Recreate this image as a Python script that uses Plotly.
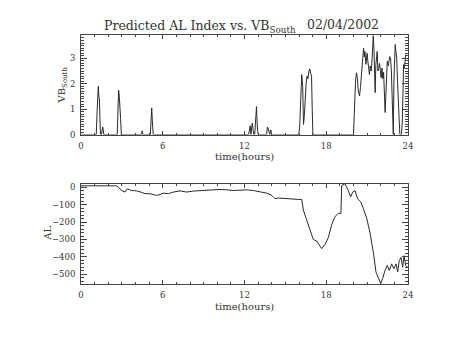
import plotly.graph_objects as go

# Solar-wind southward field driver, VB_South (mV/m), vs UT hours
vb_time = [
    0.0, 1.12, 1.18, 1.22, 1.27, 1.31, 1.35, 1.39, 1.43, 1.50, 1.55, 1.59, 1.63, 1.67,
    2.66, 2.71, 2.76, 2.81, 2.86, 2.91, 2.96,
    4.43, 4.49, 4.56, 5.09, 5.15, 5.19, 5.24, 5.30,
    12.30, 12.37, 12.42, 12.47, 12.52, 12.57, 12.63, 12.68, 12.75, 12.82, 12.88, 12.94, 13.0,
    13.62, 13.68, 13.74, 13.85, 13.93, 13.99, 14.06,
    15.88, 15.98, 16.05, 16.12, 16.20, 16.27, 16.33, 16.40, 16.46, 16.52, 16.59, 16.66,
    16.73, 16.80, 16.86, 16.92, 16.97, 17.02,
    20.0, 20.08, 20.15, 20.22, 20.29, 20.35, 20.44, 20.51, 20.58, 20.64, 20.70, 20.74,
    20.79, 20.84, 20.91, 20.96, 21.0, 21.05, 21.11, 21.17, 21.23, 21.30, 21.37, 21.41,
    21.45, 21.50, 21.55, 21.59, 21.64, 21.69, 21.74, 21.79, 21.85, 21.91, 21.97, 22.03,
    22.09, 22.15, 22.21, 22.27, 22.32, 22.37, 22.43, 22.48, 22.55, 22.61, 22.66, 22.72,
    22.78, 22.83, 22.88, 22.92, 22.97, 23.01, 23.06, 23.11, 23.17, 23.23, 23.29, 23.35,
    23.40, 23.45, 23.52, 23.58, 23.63, 23.68, 23.73, 23.78, 23.83, 23.88,
]
vb_value = [
    0.0, 0.0, 0.9, 1.2, 1.9, 1.5, 1.4, 0.6, 0.0, 0.0, 0.25, 0.3, 0.2, 0.0,
    0.0, 1.2, 1.75, 1.5, 1.2, 0.6, 0.0,
    0.0, 0.15, 0.0, 0.0, 0.6, 1.05, 0.5, 0.0,
    0.0, 0.25, 0.35, 0.0, 0.3, 0.45, 0.2, 0.0, 0.0, 0.6, 1.1, 0.3, 0.0,
    0.0, 0.3, 0.25, 0.0, 0.18, 0.0, 0.0,
    0.0, 0.0, 0.3, 1.6, 2.36, 1.9, 0.4, 0.8, 1.84, 2.0, 2.3, 2.2,
    2.5, 2.58, 2.4, 2.3, 1.0, 0.0,
    0.0, 1.6, 2.1, 2.43, 2.2, 1.71, 1.52, 1.84, 2.4, 2.75, 3.2, 3.4,
    3.05, 3.27, 2.76, 3.0, 3.2, 2.9, 2.6, 2.36, 2.7, 2.5, 3.0, 3.3,
    3.9, 3.4, 2.4, 1.65, 2.75, 3.1, 3.27, 2.5, 2.6, 2.8, 2.4, 2.23,
    2.62, 2.2, 2.45, 1.6, 0.87, 1.5, 2.62, 2.88, 2.7, 2.9, 3.07, 3.0,
    2.5, 1.6, 0.0, 0.0, 2.2, 3.27, 3.54, 3.3, 3.0, 2.1, 1.2, 0.6,
    0.0, 0.0, 0.0, 0.5, 1.97, 2.75, 2.6, 3.0, 3.14, 3.1,
]

# Predicted AL index (nT), vs UT hours
al_time = [
    0.0, 2.60, 2.75, 2.98, 3.23, 3.40, 3.72, 4.08, 4.40, 4.70, 5.06, 5.30, 5.55, 5.80,
    6.04, 6.41, 6.77, 7.27, 7.76, 8.24, 8.73, 9.22, 9.71, 10.2, 10.7, 11.18, 11.67,
    12.16, 12.65, 13.14, 13.63, 14.0, 14.24, 14.48, 14.97, 15.46, 15.95, 16.2, 16.32,
    16.56, 16.8, 17.05, 17.3, 17.49, 17.66, 17.91, 18.15, 18.4, 18.64, 18.89, 19.08,
    19.13, 19.37, 19.62, 19.79, 19.94, 20.11, 20.3, 20.53, 20.72, 20.97, 21.21, 21.46,
    21.65, 21.82, 22.0, 22.14, 22.31, 22.48, 22.63, 22.8, 22.96, 23.12, 23.24, 23.36,
    23.49, 23.61, 23.71, 23.83, 23.95, 24.0,
]
al_value = [
    8, 8, 0, -19, -28, -10, -19, -21, -28, -37, -37, -42, -47, -42,
    -34, -37, -28, -21, -28, -22, -19, -19, -13, -13, -15, -19, -17,
    -15, -19, -28, -34, -47, -66, -62, -66, -66, -70, -71, -131,
    -187, -243, -300, -309, -328, -352, -328, -290, -215, -169, -150, -150,
    10, 20, -19, -56, -28, -19, -66, -84, -122, -178, -262, -375,
    -487, -515, -552, -524, -478, -449, -478, -440, -468, -440, -487, -421,
    -403, -459, -393, -449, -459, -455,
]

hour_ticks = [0, 6, 12, 18, 24]
vb_ticks = [0, 1, 2, 3]
al_ticks = [0, -100, -200, -300, -400, -500]

W, H = 454, 341
L, R = 81, 46
FONT = "DejaVu Serif"
INK = "#333333"
LINE = "#2a2a2a"
FRAME = "#444444"


def px_to_paper_y(y):
    return 1 - y / H


fig = go.Figure()
fig.add_trace(go.Scatter(x=vb_time, y=vb_value, mode="lines",
                         line=dict(color=LINE, width=1), xaxis="x", yaxis="y",
                         showlegend=False, hoverinfo="skip"))
fig.add_trace(go.Scatter(x=al_time, y=al_value, mode="lines",
                         line=dict(color=LINE, width=1), xaxis="x2", yaxis="y2",
                         showlegend=False, hoverinfo="skip"))

common_x = dict(
    range=[0, 24], tickvals=hour_ticks, ticks="inside", ticklen=4, tickcolor=FRAME,
    showline=True, linecolor=FRAME, linewidth=1, mirror="ticks",
    showgrid=False, zeroline=False,
    minor=dict(dtick=1, tick0=0, ticks="inside", ticklen=2, tickcolor=FRAME, showgrid=False),
    tickfont=dict(family=FONT, size=8.5, color=INK), ticklabelstandoff=3,
)
common_y = dict(
    ticks="inside", ticklen=6, tickcolor=FRAME,
    showline=True, linecolor=FRAME, linewidth=1, mirror="ticks",
    showgrid=False, zeroline=False,
    tickfont=dict(family=FONT, size=8.5, color=INK), ticklabelstandoff=3,
)

fig.update_layout(
    width=W, height=H,
    margin=dict(l=L, r=R, t=0, b=0),
    paper_bgcolor="white", plot_bgcolor="white",
    xaxis=dict(common_x, domain=[0, 1], anchor="y"),
    yaxis=dict(common_y, domain=[px_to_paper_y(136), px_to_paper_y(35)], anchor="x",
               range=[0, 3.9], tickvals=vb_ticks,
               minor=dict(dtick=0.1, tick0=0, ticks="inside", ticklen=3,
                          tickcolor=FRAME, showgrid=False)),
    xaxis2=dict(common_x, domain=[0, 1], anchor="y2"),
    yaxis2=dict(common_y, domain=[px_to_paper_y(288), px_to_paper_y(186)], anchor="x2",
                range=[-555, 20], tickvals=al_ticks,
                minor=dict(dtick=20, tick0=0, ticks="inside", ticklen=3,
                           tickcolor=FRAME, showgrid=False)),
)


def ann(text, x_px, y_px, size, xanchor="center", textangle=0):
    fig.add_annotation(text=text, xref="paper", yref="paper",
                       x=(x_px - L) / (W - L - R), y=px_to_paper_y(y_px),
                       xanchor=xanchor, yanchor="middle", showarrow=False,
                       textangle=textangle,
                       font=dict(family=FONT, size=size, color=INK))


ann("Predicted AL Index vs. VB<sub>South</sub>", 102, 26, 12.5, xanchor="left")
ann("02/04/2002", 305, 24, 12.5, xanchor="left")
ann("time(hours)", 244, 158.5, 10)
ann("time(hours)", 244, 311, 10)
ann("VB<sub>South</sub>", 62, 86, 10, textangle=-90)
ann("AL", 48, 237, 10, textangle=-90)

fig.write_html("out.html")
